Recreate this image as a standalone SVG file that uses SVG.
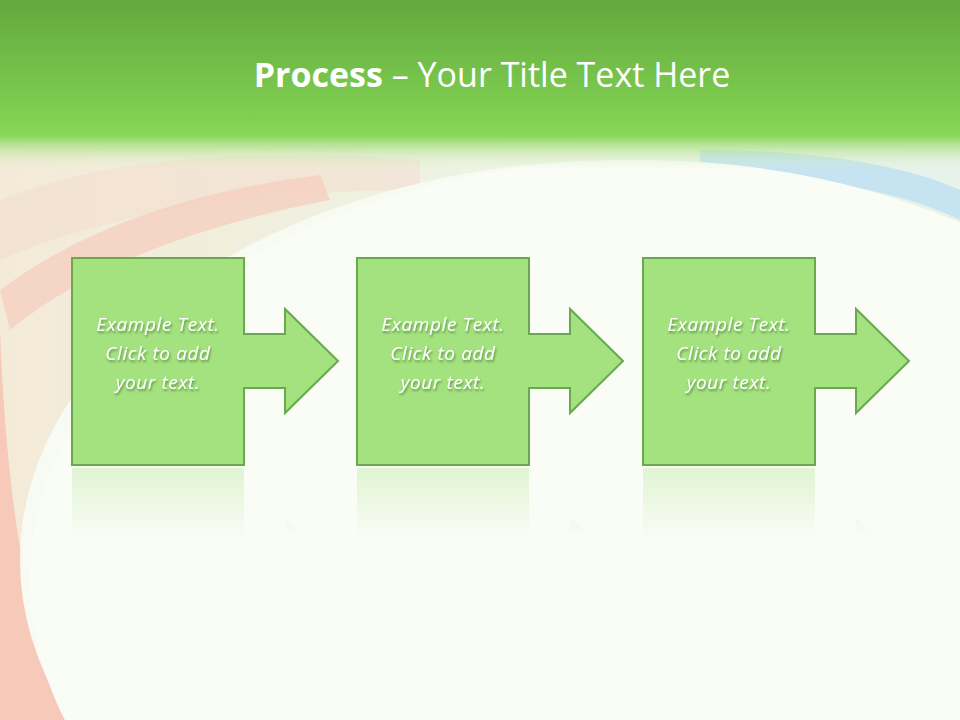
<svg xmlns="http://www.w3.org/2000/svg" width="960" height="720" viewBox="0 0 960 720">
<defs>
<linearGradient id="top" x1="0" y1="0" x2="0" y2="1">
<stop offset="0" stop-color="#64a83e"/><stop offset="0.7" stop-color="#80d152"/><stop offset="0.8" stop-color="#8ad85c"/><stop offset="1" stop-color="#eaf3da" stop-opacity="0"/>
</linearGradient>
<linearGradient id="bg" x1="0" y1="0" x2="1" y2="0">
<stop offset="0" stop-color="#f4ead8"/><stop offset="0.5" stop-color="#eef3e2"/><stop offset="1" stop-color="#e6f2ea"/>
</linearGradient>
<linearGradient id="refl" x1="0" y1="0" x2="0" y2="1">
<stop offset="0" stop-color="#a3e27e" stop-opacity="0.3"/><stop offset="1" stop-color="#a3e27e" stop-opacity="0"/>
</linearGradient>
<filter id="sh"><feDropShadow dx="1" dy="2" stdDeviation="1.2" flood-color="#2f5a1a" flood-opacity="0.6"/></filter>
<style>
.box{fill:#a3e27e;stroke:#6aa84f;stroke-width:2}
.rf{fill:url(#refl)}
.t{font-family:"Open Sans","Liberation Sans",sans-serif;font-style:italic;font-size:19px;letter-spacing:0.6px;fill:#fff;text-anchor:middle;filter:url(#sh)}
</style>
<path id="shape" d="M0,0 H172 V76 H213 V51 L266,103 L213,155 V130 H172 V207 H0 Z"/>
</defs>
<rect width="960" height="720" fill="url(#bg)"/>
<path d="M0,200 Q150,140 420,160 L420,190 Q160,190 0,260Z" fill="#f3dccd" opacity="0.5"/>
<path d="M700,170 Q880,180 960,220 V190 Q870,150 700,150Z" fill="#c5e3f0"/>
<path d="M0,290 Q120,200 320,175 L330,200 Q120,240 10,330 Z" fill="#f5cfc0" opacity="0.8"/>
<path d="M0,330 Q10,600 70,720 H0Z" fill="#f6c9b8"/>
<ellipse cx="620" cy="560" rx="600" ry="400" fill="#f8fbf3"/>
<ellipse cx="640" cy="580" rx="610" ry="420" fill="#fafcf6"/>
<rect width="960" height="170" fill="url(#top)"/>
<text x="492" y="87" font-family="'Open Sans','Liberation Sans',sans-serif" font-size="34" fill="#fff" text-anchor="middle"><tspan font-weight="bold">Process</tspan> – Your Title Text Here</text>
<g id="node1" transform="translate(72,258)">
<use href="#shape" class="box"/>
<path d="M0,210 H172 V280 H0Z M213,260 L230,275 H213Z" class="rf"/>
<text class="t" x="86" y="73">Example Text.</text><text class="t" x="86" y="102">Click  to add</text><text class="t" x="86" y="131">your text.</text>
</g>
<g id="node2" transform="translate(357,258)">
<use href="#shape" class="box"/>
<path d="M0,210 H172 V280 H0Z M213,260 L230,275 H213Z" class="rf"/>
<text class="t" x="86" y="73">Example Text.</text><text class="t" x="86" y="102">Click  to add</text><text class="t" x="86" y="131">your text.</text>
</g>
<g id="node3" transform="translate(643,258)">
<use href="#shape" class="box"/>
<path d="M0,210 H172 V280 H0Z M213,260 L230,275 H213Z" class="rf"/>
<text class="t" x="86" y="73">Example Text.</text><text class="t" x="86" y="102">Click  to add</text><text class="t" x="86" y="131">your text.</text>
</g>
<g id="connectors"></g>
</svg>
